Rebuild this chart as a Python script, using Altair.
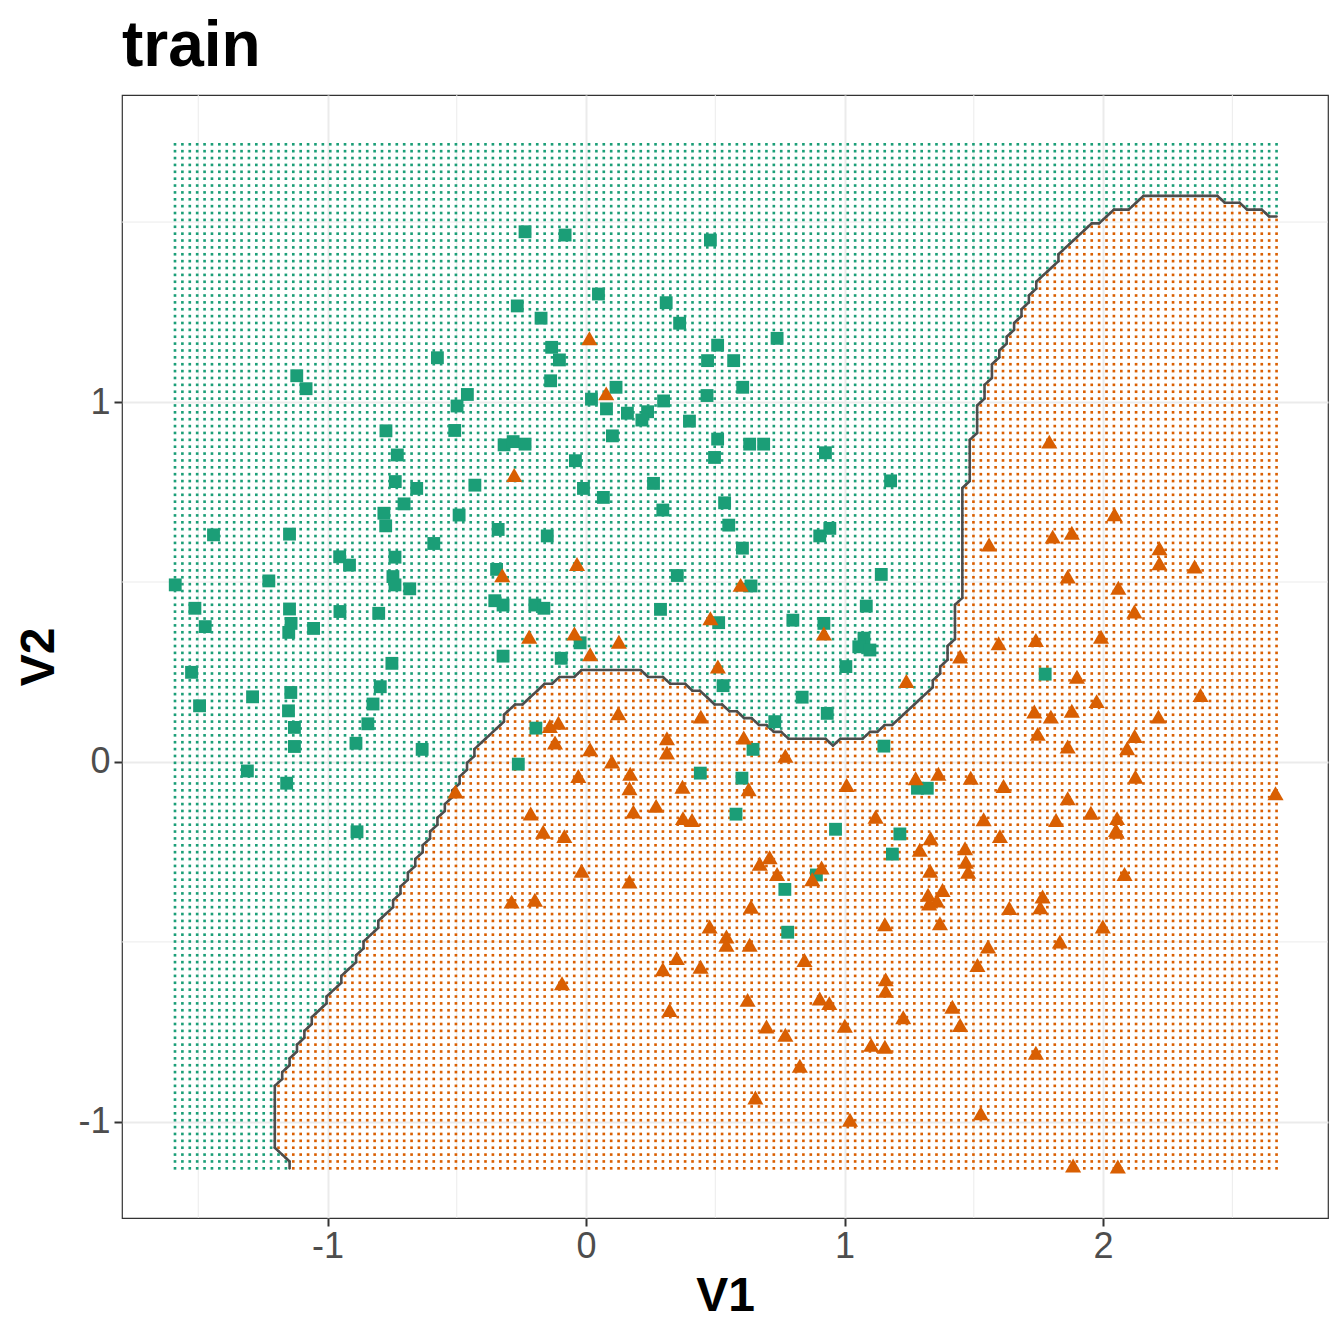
import altair as alt
import numpy as np
import pandas as pd

alt.data_transformers.disable_max_rows()

# ---------------- data ----------------
# class A (squares, teal)
SQ_V1 = [-0.236, -0.266, -0.174, -0.575, -1.119, -1.083, -0.459, -0.499, -0.774, -0.508, -0.317, -0.282, -0.236, -0.730, -0.738, -0.655, -0.430,
         -0.704, -0.782, -0.775, -0.491, -1.441, -1.147, -0.340, -0.589, -0.953, -0.915, -0.739, -0.346, -1.589, -1.227, -0.747, -0.739, -0.682, -0.353, -0.321, -0.198, -0.163, -1.513, -1.147, -1.473, -1.141, -1.150, -1.054, -0.952, -0.802, -0.321, -0.751, -1.526, -0.796, -1.290, -1.142, -1.495, -1.151, -0.824, -1.128, -0.844, -1.128, -0.890, -0.634, -0.194, -0.262, -1.310, -1.158, -0.886,
         -0.081, 0.481, 0.048, 0.310, 0.362, 0.509, 0.739, -0.133, -0.103, 0.470, 0.571, -0.137, 0.116, 0.021, 0.300, 0.468, 0.606, 0.079, 0.160, 0.238, 0.216, 0.400, 0.102, 0.509, 0.497, 0.633, 0.687, 0.926, -0.041, -0.010, 0.261, 1.178,
         0.067, 0.536, 0.297, 0.552, -0.150, 0.904, 0.943, 0.605, 0.353, 1.142, 0.638, 1.084, 0.288, 0.513, 0.800, 0.920, -0.023, -0.096, 1.075, 1.055, 1.098, 1.005, 0.530, 0.836, 0.933, 0.730, 0.646, 1.152, 0.442, 0.603, 0.580, 0.965, 1.214,
         1.185, 0.891, 0.769, 0.780,
         1.776, 1.282, 1.320]
SQ_V2 = [1.473, 1.267, 1.233, 1.123, 1.073, 1.037, 1.021, 0.989, 0.920, 0.921, 0.881, 0.890, 0.883, 0.853, 0.779, 0.760, 0.769,
         0.717, 0.691, 0.656, 0.686, 0.631, 0.633, 0.646, 0.607, 0.570, 0.547, 0.569, 0.535, 0.492, 0.503, 0.515, 0.492, 0.481, 0.448, 0.436, 0.436, 0.427, 0.427, 0.425, 0.376, 0.385, 0.360, 0.371, 0.418, 0.413, 0.294, 0.274, 0.249, 0.209, 0.181, 0.193, 0.156, 0.142, 0.161, 0.096, 0.106, 0.043, 0.052, 0.035, 0.094, -0.006, -0.025, -0.059, -0.194,
         1.464, 1.450, 1.300, 1.276, 1.219, 1.158, 1.177, 1.152, 1.117, 1.115, 1.115, 1.059, 1.041, 1.008, 1.003, 1.018, 1.041, 0.981, 0.969, 0.973, 0.950, 0.947, 0.906, 0.897, 0.846, 0.883, 0.883, 0.859, 0.837, 0.760, 0.774, 0.781,
         0.735, 0.720, 0.700, 0.658, 0.628, 0.628, 0.649, 0.594, 0.518, 0.521, 0.489, 0.433, 0.424, 0.387, 0.394, 0.385, 0.331, 0.288, 0.344, 0.320, 0.311, 0.265, 0.212, 0.180, 0.135, 0.112, 0.035, 0.044, -0.031, -0.045, -0.145, -0.187, -0.200,
         -0.256, -0.314, -0.354, -0.473,
         0.244, -0.073, -0.073]

# class B (triangles, orange)
TR_V1 = [-0.278, -0.324, -0.220, -0.505, -0.214, -0.288, -0.198, 0.013, 0.078,
         -0.035, 0.598, 0.481, 0.920, -0.045, 0.127, 0.016, 0.510, 1.239, 0.125, 0.444, -0.140, -0.107, -0.120, 0.313, 0.313, 0.610, 0.016, 0.771, 0.100, -0.030, 0.171, 0.168, 0.629, 0.373, 1.008, 0.271, 0.183, 0.375, 0.410, 1.120, -0.166, -0.084,
         -0.017, 0.168, 0.672, 0.710, 0.739, 0.911, 0.875, 0.638, 0.478, 1.156, 0.543, 0.543, 0.633, 0.351, 0.845, 0.297, 0.443, -0.093, 1.159, 1.159, 0.625, 0.904, 0.941, 0.323, 1.227, 0.698, 0.771, 1.001, 1.103, 1.156, 0.827, 0.655, 1.021,
         1.333, 1.601, 2.053, 1.291, 1.466, 1.469, 1.478, 1.331, 2.083, 1.379, 1.323, 1.357, 1.327, 1.766, 1.757, 1.637, 1.369, 1.999, 1.833, 1.555, 1.514, 1.417, 1.447, 1.740, 1.527, 1.884, 2.057,
         2.044, 1.805, 1.879, 1.559, 2.218, 2.218, 2.354, 1.863, 2.059, 2.121, 1.992, 1.596, 1.740, 1.447, 1.899, 2.377, 1.975, 1.734, 1.798, 1.879, 2.214, 1.747, 2.122, 2.093, 1.863, 1.275, 1.363, 1.488, 1.615, 2.125, 2.667, 1.863, 1.953, 2.054, 2.050, 1.538, 1.818, 1.792]
TR_V2 = [0.797, 0.519, 0.348, -0.082, -0.143, -0.388, -0.383, 1.177, 1.024,
         0.550, 0.492, 0.399, 0.357, 0.357, 0.334, 0.299, 0.265, 0.225, 0.135, 0.126, 0.100, 0.109, 0.054, 0.066, 0.026, 0.068, 0.035, 0.017, 0.001, -0.039, -0.033, -0.073, -0.076, -0.069, -0.064, -0.122, -0.138, -0.156, -0.161, -0.152, -0.194, -0.206,
         -0.302, -0.332, -0.283, -0.265, -0.311, -0.293, -0.326, -0.402, -0.457, -0.451, -0.485, -0.508, -0.508, -0.545, -0.550, -0.576, -0.569, -0.615, -0.604, -0.636, -0.661, -0.657, -0.670, -0.689, -0.709, -0.735, -0.758, -0.733, -0.786, -0.791, -0.844, -0.932, -0.994,
         -0.212, -0.206, -0.194, -0.244, -0.240, -0.277, -0.305, -0.302, -0.311, -0.356, -0.369, -0.385, -0.393, -0.374, -0.404, -0.406, -0.448, -0.457, -0.499, -0.513, -0.564, -0.680, -0.731, -0.808, -0.976, -1.121, -1.124,
         0.688, 0.626, 0.637, 0.604, 0.594, 0.552, 0.543, 0.515, 0.484, 0.418, 0.348, 0.330, 0.339, 0.293, 0.237, 0.186, 0.169, 0.140, 0.126, 0.142, 0.126, 0.078, 0.072, 0.038, 0.043, -0.045, -0.033, -0.044, -0.067, -0.041, -0.087, -0.101, -0.141, -0.156, -0.189, -0.159, -0.161, 0.890]

# decision boundary, left/bottom -> right/top
BND_V1 = [-1.147, -1.205, -1.205, -1.120, -1.058, -1.004, -0.946, -0.888, -0.806, -0.717, -0.659, -0.601, -0.574, -0.540, -0.514, -0.462, -0.404, -0.321, -0.283, -0.248,
          -0.178, -0.150, -0.101, -0.049, -0.017, 0.209, 0.241, 0.293, 0.326, 0.384, 0.410, 0.442, 0.493, 0.526, 0.558, 0.584, 0.616, 0.642, 0.668, 0.694,
          0.726, 0.752, 0.784, 0.926, 0.952, 0.978, 1.069, 1.101, 1.127, 1.159, 1.185, 1.256, 1.340, 1.340, 1.366, 1.366, 1.398, 1.398, 1.424, 1.424,
          1.450, 1.450, 1.482, 1.482, 1.512, 1.512, 1.540, 1.540, 1.569, 1.569, 1.598, 1.598, 1.628, 1.628, 1.656, 1.656, 1.685, 1.685, 1.714, 1.714,
          1.772, 1.857, 1.953, 1.986, 2.044, 2.070, 2.128, 2.154, 2.438, 2.464, 2.522, 2.554, 2.606, 2.638, 2.664]
BND_V2 = [-1.125, -1.056, -0.919, -0.800, -0.717, -0.661, -0.603, -0.544, -0.453, -0.356, -0.278, -0.200, -0.156, -0.128, -0.092, 0.001, 0.052, 0.112, 0.158, 0.158,
          0.206, 0.218, 0.237, 0.237, 0.256, 0.256, 0.237, 0.237, 0.219, 0.219, 0.198, 0.198, 0.160, 0.160, 0.142, 0.142, 0.121, 0.121, 0.103, 0.103,
          0.084, 0.084, 0.066, 0.066, 0.047, 0.066, 0.066, 0.084, 0.084, 0.103, 0.103, 0.154, 0.209, 0.228, 0.246, 0.265, 0.283, 0.325, 0.344, 0.436,
          0.454, 0.765, 0.783, 0.894, 0.912, 0.992, 1.010, 1.047, 1.066, 1.107, 1.126, 1.144, 1.163, 1.181, 1.200, 1.220, 1.242, 1.260, 1.279, 1.297,
          1.353, 1.431, 1.496, 1.496, 1.533, 1.533, 1.554, 1.575, 1.575, 1.556, 1.556, 1.535, 1.535, 1.517, 1.517]

# prediction grid extent (min, max, count)
GRID_V1 = (-1.590, 2.671, 150)
GRID_V2 = (-1.129, 1.716, 150)

X_TICKS = [-1, 0, 1, 2]
Y_TICKS = [-1, 0, 1]
X_MINOR = [-1.5, -0.5, 0.5, 1.5, 2.5]
Y_MINOR = [-0.5, 0.5, 1.5]

CLASSES = ["A", "B"]
COLORS = ["#1B9E77", "#D95F02"]

# ---------------- derived tables ----------------
pts = pd.concat([
    pd.DataFrame({"V1": [a for a, b in zip(SQ_V1, SQ_V2)], "V2": [b for a, b in zip(SQ_V1, SQ_V2)], "cls": "A"}),
    pd.DataFrame({"V1": [a for a, b in zip(TR_V1, TR_V2)], "V2": [b for a, b in zip(TR_V1, TR_V2)], "cls": "B"}),
], ignore_index=True)

bx = [a for a, b in zip(BND_V1, BND_V2)]
by = [b for a, b in zip(BND_V1, BND_V2)]
poly_x = np.array([bx[0]] + bx + [3.0, 3.0])
poly_y = np.array([-1.5] + by + [by[-1], -1.5])


def inside(px, py, vx, vy):
    res = np.zeros(px.shape, dtype=bool)
    n = len(vx)
    j = n - 1
    for i in range(n):
        xi, yi, xj, yj = vx[i], vy[i], vx[j], vy[j]
        if yi != yj:
            cross = ((yi > py) != (yj > py)) & (px < (xj - xi) * (py - yi) / (yj - yi) + xi)
            res ^= cross
        j = i
    return res


gx = np.linspace(*GRID_V1)
gy = np.linspace(*GRID_V2)
GX, GY = np.meshgrid(gx, gy)
Z = inside(GX, GY, poly_x, poly_y).astype(int)

grid = pd.DataFrame({"V1": GX.ravel(), "V2": GY.ravel(),
                     "cls": np.where(Z.ravel() == 1, "B", "A")})

# contour of the classified grid (marching squares at level 0.5)
segs = []
ny, nx = Z.shape
for j in range(ny - 1):
    for i in range(nx - 1):
        a, b, c, d = Z[j, i], Z[j, i + 1], Z[j + 1, i + 1], Z[j + 1, i]
        if a == b == c == d:
            continue
        xm = (gx[i] + gx[i + 1]) / 2
        ym = (gy[j] + gy[j + 1]) / 2
        e = {}
        if a != b:
            e["B"] = (xm, gy[j])
        if b != c:
            e["R"] = (gx[i + 1], ym)
        if c != d:
            e["T"] = (xm, gy[j + 1])
        if d != a:
            e["L"] = (gx[i], ym)
        if len(e) == 2:
            p, q = list(e.values())
            segs.append((p[0], p[1], q[0], q[1]))
        elif len(e) == 4:
            segs.append(e["B"] + e["L"])
            segs.append(e["T"] + e["R"])
seg_df = pd.DataFrame(segs, columns=["V1", "V2", "V1e", "V2e"])

# ---------------- chart ----------------
FONT = "Liberation Sans"
xscale = alt.Scale(domain=[-1.795, 2.870], nice=False, zero=False)
yscale = alt.Scale(domain=[-1.267, 1.853], nice=False, zero=False)

common = dict(grid=True, gridColor="#EBEBEB", gridWidth=2, domain=False,
              ticks=True, tickColor="#333333", tickSize=8, tickWidth=2,
              labelFontSize=36, labelColor="#4D4D4D", labelFont=FONT,
              labelExpr="'' + datum.value",
              titleFontSize=48, titleFont=FONT, titleFontWeight="bold",
              titleColor="black")
xaxis = alt.Axis(title="V1", values=X_TICKS, labelPadding=3, titlePadding=8, **common)
yaxis = alt.Axis(title="V2", values=Y_TICKS, labelPadding=4, titlePadding=14, **common)


def X(field):
    return alt.X(field, type="quantitative", scale=xscale, axis=xaxis, title="V1")


def Y(field):
    return alt.Y(field, type="quantitative", scale=yscale, axis=yaxis, title="V2")


color = alt.Color("cls:N", scale=alt.Scale(domain=CLASSES, range=COLORS), legend=None)

minor_x = alt.Chart(pd.DataFrame({"V1": X_MINOR})).mark_rule(
    color="#EBEBEB", strokeWidth=1).encode(x=X("V1"))
minor_y = alt.Chart(pd.DataFrame({"V2": Y_MINOR})).mark_rule(
    color="#EBEBEB", strokeWidth=1).encode(y=Y("V2"))

dots = alt.Chart(grid).mark_square(size=7, opacity=1).encode(
    x=X("V1"), y=Y("V2"), color=color)

contour = alt.Chart(seg_df).mark_rule(color="#4D4D4D", strokeWidth=2.6, strokeCap="round").encode(
    x=X("V1"), y=Y("V2"), x2="V1e:Q", y2="V2e:Q")

points = alt.Chart(pts).mark_point(filled=True, opacity=1).encode(
    x=X("V1"), y=Y("V2"), color=color,
    shape=alt.Shape("cls:N", scale=alt.Scale(domain=CLASSES, range=["square", "triangle-up"]), legend=None),
    size=alt.Size("cls:N", scale=alt.Scale(domain=CLASSES, range=[165, 260]), legend=None))

chart = alt.layer(minor_x, minor_y, dots, contour, points).properties(
    width=1206, height=1123,
    autosize=alt.AutoSizeParams(type="none"),
    padding={"left": 114, "top": 87, "right": 6, "bottom": 106},
    title=alt.TitleParams("train", anchor="start", frame="group", fontSize=64,
                          fontWeight="bold", font=FONT, color="black", offset=-35,
                          baseline="alphabetic"),
).configure_view(stroke="#333333", strokeWidth=1.2)

chart.save("out.html", embed_options={"renderer": "svg", "actions": False})
